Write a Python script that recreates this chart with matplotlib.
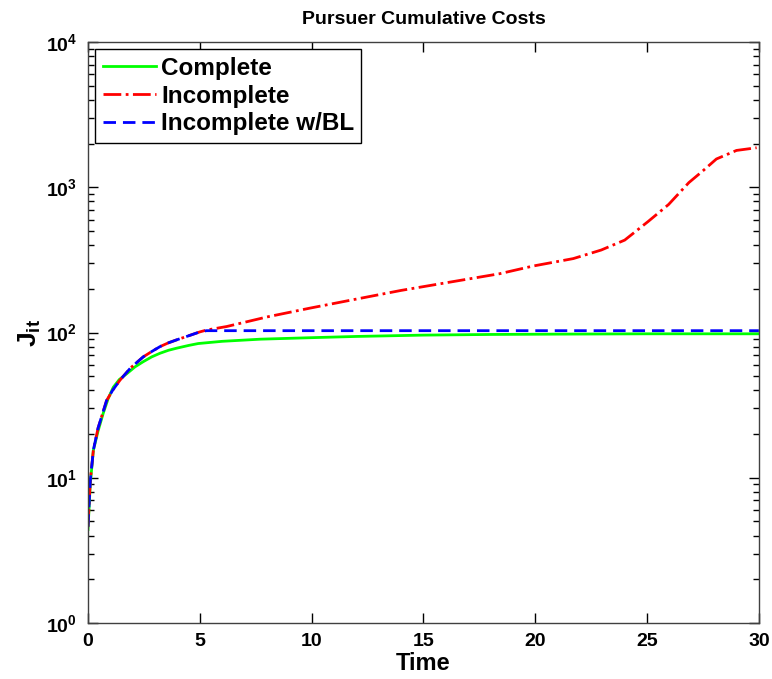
import numpy as np
import matplotlib
matplotlib.use('Agg')
import matplotlib.pyplot as plt
from matplotlib.ticker import LogLocator, FixedLocator

plt.rcParams['font.family'] = ['Liberation Sans', 'DejaVu Sans']
plt.rcParams['font.weight'] = 'bold'
plt.rcParams['mathtext.fontset'] = 'custom'
plt.rcParams['mathtext.rm'] = 'Liberation Sans:bold'
plt.rcParams['mathtext.bf'] = 'Liberation Sans:bold'
plt.rcParams['mathtext.it'] = 'Liberation Sans:bold'
plt.rcParams['mathtext.default'] = 'rm'

# values
t_complete = [0.0, 0.1, 0.24, 0.45, 0.68, 0.9, 1.13, 1.4, 1.73, 2.1, 2.47, 2.85, 3.22, 3.6, 3.96,
              4.5, 4.93, 6.0, 7.7, 9.8, 12.0, 15.0, 18.0, 21.0, 25.0, 30.0]
j_complete = [4.4, 9.0, 15.5, 21.0, 27.8, 35.0, 42.0, 47.5, 52.0, 58.0, 63.0, 68.0, 72.0, 75.5, 78.0,
              81.5, 84.0, 87.0, 90.0, 92.0, 94.0, 96.0, 97.0, 97.5, 98.0, 98.0]

t_bl = [0.0, 0.1, 0.24, 0.45, 0.83, 1.1, 1.43, 1.9, 2.47, 2.85, 3.22, 3.6, 3.96, 4.5, 5.0,
        5.3, 6.0, 8.0, 12.0, 20.0, 30.0]
j_bl = [4.6, 9.5, 15.5, 22.0, 34.0, 40.0, 47.0, 57.0, 68.0, 74.0, 80.0, 85.0, 89.0, 95.0, 101.0,
        103.0, 103.0, 103.0, 103.0, 103.0, 103.0]

t_inc = [0.0, 0.1, 0.24, 0.45, 0.83, 1.1, 1.43, 1.9, 2.47, 2.85, 3.22, 3.6, 3.96, 4.5, 5.0,
         5.3, 6.2, 8.0, 9.9, 12.0, 14.0, 16.0, 18.4, 19.9, 21.7, 22.95, 24.0, 25.05, 25.96,
         26.87, 27.5, 28.1, 29.0, 29.9]
j_inc = [4.6, 9.5, 15.5, 22.0, 34.0, 40.0, 47.0, 57.0, 68.0, 74.0, 80.0, 85.0, 89.0, 95.0, 101.0,
         104.0, 110.0, 128.0, 147.0, 170.0, 195.0, 220.0, 254.0, 287.0, 323.0, 370.0, 433.0, 582.0,
         761.0, 1078.0, 1300.0, 1567.0, 1795.0, 1873.0]

fig = plt.figure(figsize=(7.72, 6.79), dpi=100)
ax = fig.add_axes([0.114, 0.0825, 0.869, 0.8555])

ax.plot(t_complete, j_complete, '-', color=(0, 1, 0), lw=2, label='Complete')
ax.plot(t_inc, j_inc, '-.', color=(1, 0, 0), lw=2, label='Incomplete')
ax.plot(t_bl, j_bl, '--', color=(0, 0, 1), lw=2, dashes=(4.5, 2.5), label='Incomplete w/BL')

ax.set_yscale('log')
ax.set_xlim(0, 30)
ax.set_ylim(1, 1e4)
ax.xaxis.set_major_locator(FixedLocator([0, 5, 10, 15, 20, 25, 30]))
ax.yaxis.set_major_locator(LogLocator(base=10, numticks=10))
ax.yaxis.set_minor_locator(LogLocator(base=10, subs=np.arange(2, 10), numticks=10))

ax.tick_params(which='both', direction='in', top=True, right=True, labelsize=14, width=1, colors='black')
ax.tick_params(which='major', length=7)
ax.tick_params(which='minor', length=4)
ax.tick_params(axis='x', pad=7)
ax.tick_params(axis='y', pad=8)
for s in ax.spines.values():
    s.set_linewidth(1)
    s.set_color('#404040')

ax.set_title('Pursuer Cumulative Costs', fontsize=14, fontweight='bold', pad=13)
ax.set_xlabel('Time', fontsize=17, fontweight='bold', labelpad=2)
ax.set_ylabel('$J_{it}$', fontsize=19, labelpad=2)

leg = ax.legend(loc='upper left', fontsize=17.5, fancybox=False, framealpha=1,
                edgecolor='black', handlelength=2.2, handletextpad=0.2,
                borderaxespad=0.3, labelspacing=0.2, borderpad=0.3)
leg.get_frame().set_linewidth(1)

fig.savefig('out.png', dpi=100)
